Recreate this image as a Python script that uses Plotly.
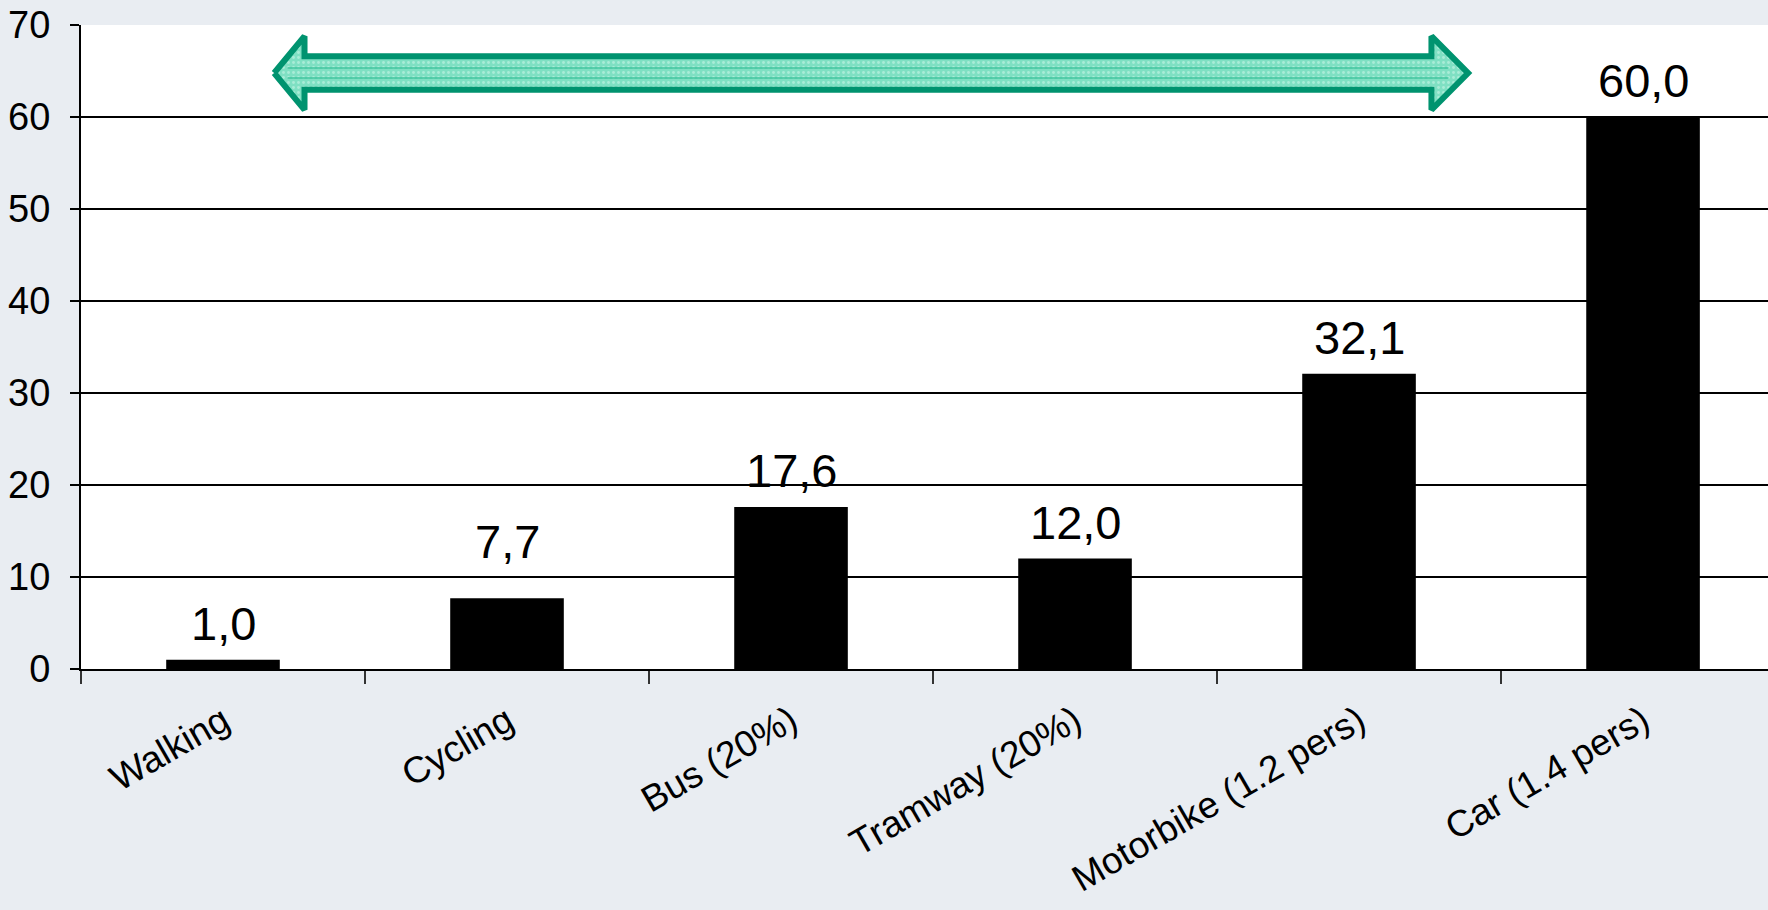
import plotly.graph_objects as go

# Energy use per passenger-km by transport mode (walking = 1)
modes = ["Walking", "Cycling", "Bus (20%)", "Tramway (20%)", "Motorbike (1.2 pers)", "Car (1.4 pers)"]
values = [1.0, 7.7, 17.6, 12.0, 32.1, 60.0]
value_labels = ["1,0", "7,7", "17,6", "12,0", "32,1", "60,0"]
y_ticks = [0, 10, 20, 30, 40, 50, 60, 70]

FONT = "Arial, Liberation Sans, sans-serif"
X_RANGE = [-0.5, 5.44]

fig = go.Figure()

fig.add_trace(go.Bar(
    x=modes, y=values, width=0.4,
    marker=dict(color="black", line=dict(width=0)),
    hoverinfo="skip", showlegend=False,
))

# value labels above bars (the cycling label sits a little higher)
extra_lift = [0, 20, 0, 0, 0, 0]
for m, v, t, lift in zip(modes, values, value_labels, extra_lift):
    fig.add_annotation(
        x=m, y=v, text=t, showarrow=False, yanchor="bottom",
        yshift=8 + lift, font=dict(family=FONT, size=47, color="black"),
    )

# double-headed green arrow spanning walking .. motorbike
tip_l, base_l, base_r, tip_r = 0.18, 0.287, 4.255, 4.384
y_mid, shaft_hw, head_hw = 64.78, 1.83, 4.0
arrow_x = [tip_l, base_l, base_l, base_r, base_r, tip_r, base_r, base_r, base_l, base_l, tip_l]
arrow_y = [y_mid, y_mid + head_hw, y_mid + shaft_hw, y_mid + shaft_hw, y_mid + head_hw, y_mid,
           y_mid - head_hw, y_mid - shaft_hw, y_mid - shaft_hw, y_mid - head_hw, y_mid]
fig.add_trace(go.Scatter(
    x=arrow_x, y=arrow_y, xaxis="x2", mode="lines", fill="toself",
    fillcolor="#7fe0c3",
    fillpattern=dict(shape=".", bgcolor="#7fe0c3", fgcolor="#d6f7ec", size=5, solidity=0.25),
    line=dict(color="#00936f", width=6, simplify=False),
    hoverinfo="skip", showlegend=False,
))
for dy in (-0.55, 0.55):
    fig.add_trace(go.Scatter(
        x=[base_l - 0.06, base_r + 0.06], y=[y_mid + dy, y_mid + dy], xaxis="x2",
        mode="lines", line=dict(color="#3fc59e", width=1.5),
        hoverinfo="skip", showlegend=False,
    ))

fig.update_layout(
    width=1768, height=910,
    margin=dict(l=81, r=0, t=25, b=241),
    paper_bgcolor="#e9edf2",
    plot_bgcolor="white",
    bargap=0.6,
    xaxis=dict(
        type="category", range=X_RANGE, tickson="boundaries", automargin=False,
        ticks="outside", ticklen=13, tickcolor="#333333", tickwidth=1.5,
        showline=True, linecolor="black", linewidth=2,
        showgrid=False, tickangle=-30, ticklabelstandoff=14,
        tickfont=dict(family=FONT, size=37, color="black"),
    ),
    xaxis2=dict(range=X_RANGE, overlaying="x", visible=False),
    yaxis=dict(
        range=[0, 70], tickvals=y_ticks, automargin=False,
        ticks="outside", ticklen=9, tickcolor="black", tickwidth=1.5,
        showline=True, linecolor="black", linewidth=2,
        showgrid=True, gridcolor="black", gridwidth=1.5, zeroline=False,
        ticklabelstandoff=12,
        tickfont=dict(family=FONT, size=38, color="black"),
    ),
)

fig.write_html("out.html")
